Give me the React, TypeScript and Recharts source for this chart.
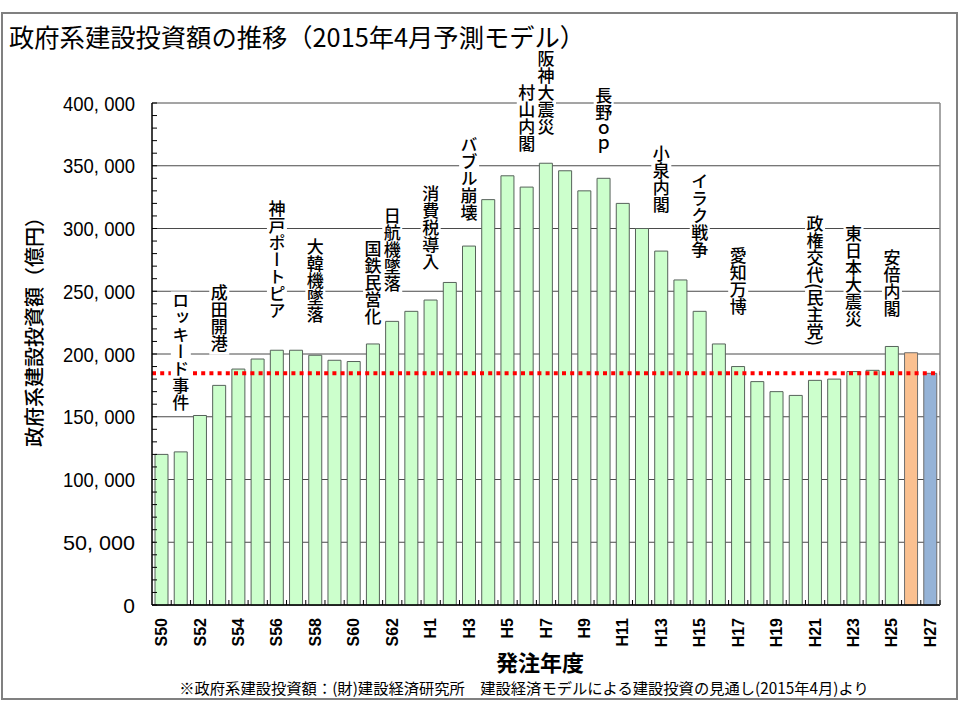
import { BarChart, Bar, XAxis, YAxis, CartesianGrid, ReferenceLine, ReferenceDot } from "recharts";

// 発注年度 (S50 = 1975 ... H27 = 2015)
const years = [
  "S50", "S51", "S52", "S53", "S54", "S55", "S56", "S57", "S58", "S59",
  "S60", "S61", "S62", "S63", "H1", "H2", "H3", "H4", "H5", "H6",
  "H7", "H8", "H9", "H10", "H11", "H12", "H13", "H14", "H15", "H16",
  "H17", "H18", "H19", "H20", "H21", "H22", "H23", "H24", "H25", "H26", "H27",
];

// 実績 S50〜H25 (億円)
const actualValues = [
  120000, 122000, 151000, 175000, 188000, 196000, 203000, 203000, 199000, 195000,
  194000, 208000, 226000, 234000, 243000, 257000, 286000, 323000, 342000, 333000,
  352000, 346000, 330000, 340000, 320000, 300000, 282000, 259000, 234000, 208000,
  190000, 178000, 170000, 167000, 179000, 180000, 186000, 187000, 206000,
];
// 見込み H26, 見通し H27
const estimateValues = [201000];
const forecastValues = [184600];
const averageLine = 184600;

const yMajorTicks = [0, 50000, 100000, 150000, 200000, 250000, 300000, 350000, 400000];
const yMinorTicks = Array.from({ length: 41 }, (_, i) => i * 10000);

const events = [
  { year: "S51", top: 249000, text: "ロッキード事件" },
  { year: "S53", top: 256000, text: "成田開港" },
  { year: "S56", top: 323000, text: "神戸ポートピア" },
  { year: "S58", top: 292000, text: "大韓機墜落" },
  { year: "S61", top: 291000, text: "国鉄民営化" },
  { year: "S62", top: 317000, text: "日航機墜落" },
  { year: "H1", top: 335000, text: "消費税導入" },
  { year: "H3", top: 374000, text: "バブル崩壊" },
  { year: "H6", top: 415500, text: "村山内閣" },
  { year: "H7", top: 442000, text: "阪神大震災" },
  { year: "H10", top: 412700, text: "長野ｏｐ" },
  { year: "H13", top: 366500, text: "小泉内閣" },
  { year: "H15", top: 344000, text: "イラク戦争" },
  { year: "H17", top: 285000, text: "愛知万博" },
  { year: "H21", top: 310800, text: "政権交代(民主党)" },
  { year: "H23", top: 302800, text: "東日本大震災" },
  { year: "H25", top: 284000, text: "安倍内閣" },
];

const tableData = years.map((year, i) => ({
  year,
  actual: i < actualValues.length ? actualValues[i] : null,
  estimate: i === actualValues.length ? estimateValues[0] : null,
  forecast: i === actualValues.length + 1 ? forecastValues[0] : null,
}));

const JP = "'Noto Sans CJK JP', sans-serif";
const fmt = (v: number) => v.toLocaleString("en-US").replace(/,/g, ", ");

// tick label sits 17px left of the axis; minor tick marks point into the plot
const YTick = ({ x, y, payload }: any) => {
  const major = payload.value % 50000 === 0;
  const label = fmt(payload.value);
  return (
    <g>
      <line x1={x + 17} x2={x + 22} y1={y} y2={y} stroke="#000" strokeWidth={1} />
      {major && (
        <text x={x} y={y} textAnchor="end" dominantBaseline="central"
          fontFamily="'Liberation Sans', Arial, sans-serif" fontSize={21} fill="#000"
          textLength={label.length > 3 ? 72 : undefined} lengthAdjust="spacingAndGlyphs">
          {label}
        </text>
      )}
    </g>
  );
};

const XTick = ({ x, y, payload }: any) => {
  const idx = years.indexOf(payload.value);
  const off = payload.offset ?? 0;
  return (
    <g>
      <line x1={x + off} x2={x + off} y1={y} y2={y - 5} stroke="#000" strokeWidth={1} />
      {idx % 2 === 0 && (
        <text x={x} y={y + 13} transform={`rotate(-90, ${x}, ${y + 13})`} textAnchor="end"
          dominantBaseline="central" fontFamily="'Liberation Sans', Arial, sans-serif"
          fontWeight="bold" fontSize={16} fill="#000">
          {payload.value}
        </text>
      )}
    </g>
  );
};

const EventLabel = ({ cx, cy, text }: any) => {
  const pitch = 17.5;
  const len = [...text].reduce((s: number, c: string) => s + (/[\x00-\x7f]/.test(c) ? 0.4 : 1), 0);
  return (
    <g>
      <rect x={cx - 10} y={cy - 1} width={20} height={len * pitch + 2} fill="#fff" />
      <text x={cx} y={cy} style={{ writingMode: "vertical-rl" }} fontFamily={JP}
        fontSize={17} fontWeight={500} fill="#000">
        {text}
      </text>
    </g>
  );
};

export default function App() {
  return (
    <div style={{ position: "absolute", left: 0, top: 0, width: 960, height: 720, background: "#fff", fontFamily: JP }}>
      <div style={{ position: "absolute", left: 1, top: 12, width: 957, height: 688, border: "2px solid #808080", boxSizing: "border-box" }} />
      <div style={{ position: "absolute", left: 9, top: 22, fontSize: 25.3, lineHeight: "28px", whiteSpace: "nowrap", color: "#000" }}>
        政府系建設投資額の推移（2015年4月予測モデル）
      </div>
      <BarChart width={960} height={720} data={tableData} barSize={13}
        margin={{ top: 103, right: 19, left: 0, bottom: 0 }} style={{ position: "absolute", left: 0, top: 0 }}>
        <CartesianGrid vertical={false} horizontalValues={yMajorTicks} stroke="#4a4a4a" strokeWidth={1} />
        <XAxis dataKey="year" interval={0} height={115} tickSize={0} tickMargin={0} tickLine={false}
          axisLine={{ stroke: "#000", strokeWidth: 1.5 }} tick={<XTick />} />
        <YAxis domain={[0, 400000]} ticks={yMinorTicks} width={152} interval={0} tickSize={0} tickMargin={17}
          axisLine={{ stroke: "#000", strokeWidth: 1.5 }} tickLine={false} tick={<YTick />} />
        <YAxis yAxisId="right" orientation="right" width={1} tick={false} tickLine={false}
          axisLine={{ stroke: "#888", strokeWidth: 1.5 }} />
        <Bar dataKey="actual" stackId="s" fill="#ccffcc" stroke="#56625a" strokeWidth={1} isAnimationActive={false} />
        <Bar dataKey="estimate" stackId="s" fill="#fac090" stroke="#6e6e6e" strokeWidth={1} isAnimationActive={false} />
        <Bar dataKey="forecast" stackId="s" fill="#95b3d7" stroke="#6e6e6e" strokeWidth={1} isAnimationActive={false} />
        {events.map((e) => (
          <ReferenceDot key={e.year} x={e.year} y={e.top} ifOverflow="visible"
            shape={(p: any) => <EventLabel {...p} text={e.text} />} />
        ))}
        <ReferenceLine y={averageLine} stroke="#ff0000" strokeWidth={4} strokeDasharray="4 4.2" ifOverflow="visible" />
      </BarChart>
      <div style={{ position: "absolute", left: 33, top: 327, transform: "translate(-50%, -50%) rotate(-90deg)", fontSize: 20, fontWeight: 500, whiteSpace: "nowrap", color: "#000" }}>
        政府系建設投資額（億円）
      </div>
      <div style={{ position: "absolute", left: 540, top: 661, transform: "translate(-50%, -50%)", fontSize: 22, fontWeight: "bold", whiteSpace: "nowrap", color: "#000" }}>
        発注年度
      </div>
      <div style={{ position: "absolute", left: 524, top: 687, transform: "translate(-50%, -50%)", fontSize: 15.3, whiteSpace: "nowrap", color: "#000" }}>
        ※政府系建設投資額：(財)建設経済研究所　建設経済モデルによる建設投資の見通し(2015年4月)より
      </div>
    </div>
  );
}
